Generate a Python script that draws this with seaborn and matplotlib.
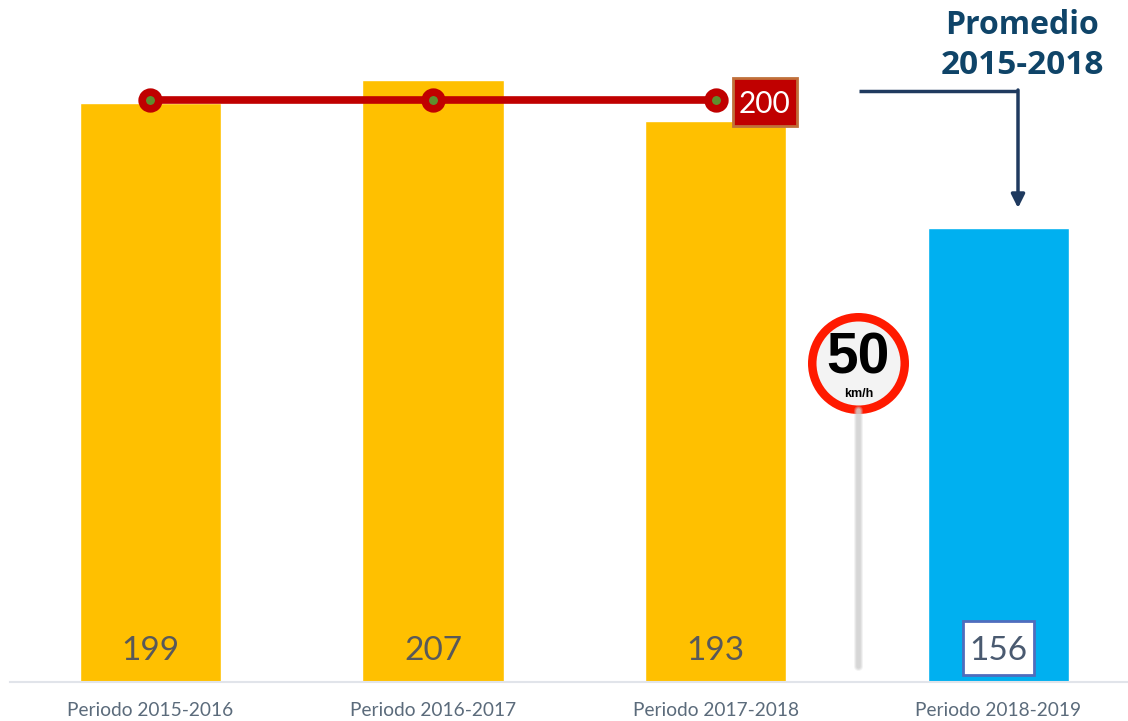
import matplotlib
matplotlib.use('Agg')
import matplotlib.pyplot as plt
from matplotlib.patches import Circle, Rectangle
import pandas as pd
import seaborn as sns

periodos = ['Periodo 2015-2016', 'Periodo 2016-2017', 'Periodo 2017-2018', 'Periodo 2018-2019']
valores = [199, 207, 193, 156]
colores = ['#FFC000', '#FFC000', '#FFC000', '#00B0F0']
promedio_periodos = periodos[:3]
promedio_valores = [200, 200, 200]

W, H = 1128, 721
sns.set_theme(style='white')
plt.rcParams['font.family'] = ['Lato', 'DejaVu Sans']

fig = plt.figure(figsize=(W / 100, H / 100), dpi=100)
ax = fig.add_axes([10 / W, (H - 681.5) / H, 1118 / W, 681.5 / H])

df = pd.DataFrame({'periodo': periodos, 'valor': valores})
sns.barplot(data=df, x='periodo', y='valor', hue='periodo', palette=colores,
            legend=False, width=0.5, saturation=1, ax=ax)
sns.lineplot(x=promedio_periodos, y=promedio_valores, color='#C00000', linewidth=5.5,
             marker='o', markersize=12, markerfacecolor='#5E8E2E',
             markeredgecolor='#C00000', markeredgewidth=5.5, ax=ax)

ax.set_xlim(-0.497, 3.459)
ax.set_ylim(0, 234.5)
ax.set_xlabel('')
ax.set_ylabel('')
ax.set_yticks([])
for s in ['top', 'left', 'right']:
    ax.spines[s].set_visible(False)
ax.spines['bottom'].set_color('#E1E4EA')
ax.spines['bottom'].set_linewidth(1.5)
ax.tick_params(axis='x', length=0, pad=15, labelsize=13.8, labelcolor='#5B6B7B')

# etiquetas de las barras
for i, v in enumerate(valores):
    if i < 3:
        ax.text(i, 10.5, str(v), ha='center', va='center', fontsize=24, color='#595959')

# capa en pixeles para las anotaciones
ov = fig.add_axes([0, 0, 1, 1])
ov.set_xlim(0, W)
ov.set_ylim(H, 0)
ov.axis('off')
ov.patch.set_alpha(0)

# caja 156
ov.add_patch(Rectangle((962.5, 620.5), 71, 54, facecolor='white', edgecolor='#4F6DBD', linewidth=2))
ov.text(998.5, 651, str(valores[3]), ha='center', va='center', fontsize=24, color='#4A5A70')

# caja 200
ov.add_patch(Rectangle((732.5, 78), 64, 48, facecolor='#C00000', edgecolor='#C0703A', linewidth=2))
ov.text(764.5, 104, '200', ha='center', va='center', fontsize=21.5, color='white')

# flecha promedio
ov.plot([859, 1018], [91, 91], color='#1F3A5F', linewidth=2.5, solid_capstyle='butt')
ov.annotate('', xy=(1018, 208), xytext=(1018, 90),
            arrowprops=dict(arrowstyle='-|>', color='#1F3A5F', lw=2.5, mutation_scale=20,
                            shrinkA=0, shrinkB=0))
ov.text(1022, 26, 'Promedio', ha='center', va='center', fontsize=23, fontweight='bold',
        color='#0F4468', family=['Open Sans', 'DejaVu Sans'])
ov.text(1022, 65, '2015-2018', ha='center', va='center', fontsize=24, fontweight='bold',
        color='#0F4468', family=['Open Sans', 'DejaVu Sans'])

# senal de velocidad
for w, a in [(9, 0.25), (7, 0.4), (4.5, 0.7)]:
    ov.plot([858, 858], [410, 666], color='#D0D0D0', linewidth=w * 0.72, alpha=a,
            solid_capstyle='round')
ov.add_patch(Circle((858.5, 363.5), 50.5, facecolor='#FF1A00', edgecolor='none'))
ov.add_patch(Circle((858.5, 363.5), 42, facecolor='#F3F3F3', edgecolor='none'))
ov.text(858.5, 358, '50', ha='center', va='center', fontsize=41, fontweight='bold',
        color='black', family=['Liberation Sans', 'DejaVu Sans'])
ov.text(858.5, 394, 'km/h', ha='center', va='center', fontsize=9, fontweight='bold',
        color='black', family=['Liberation Sans', 'DejaVu Sans'])

fig.savefig('out.png', dpi=100, facecolor='white')
